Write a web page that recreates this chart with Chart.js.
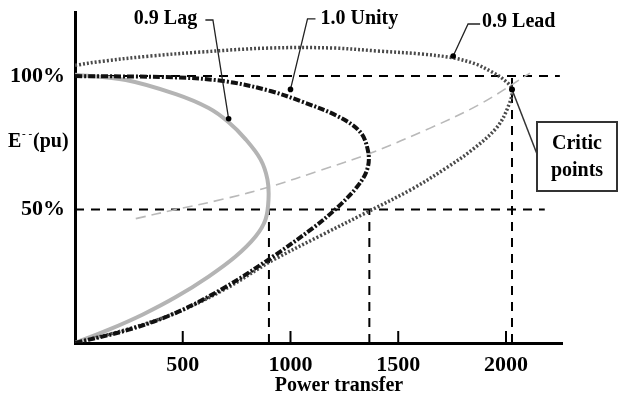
<!DOCTYPE html>
<html>
<head>
<meta charset="utf-8">
<script src="https://cdn.jsdelivr.net/npm/chart.js@4"></script>
<style>
  html, body { margin: 0; padding: 0; background: #fff; }
  #wrap { width: 622px; height: 399px; }
</style>
</head>
<body>
<div id="wrap"><canvas id="c"></canvas></div>
<script>
// Power transfer (x) / voltage % (y)
const lagP = [0, 236, 468, 620, 713, 792, 861, 893, 898, 884, 838, 745, 620, 468, 315, 157, 0];
const lagV = [100.5, 98.5, 93.2, 88, 82.7, 76.3, 68.8, 61.3, 53.8, 46.2, 39.9, 32.4, 24.9, 17.2, 10.7, 5, 0];

const unityP = [0, 468, 700, 907, 1060, 1218, 1324, 1361, 1356, 1310, 1218, 1106, 917, 699, 468, 250, 0];
const unityV = [100, 99.5, 98, 94.4, 90.2, 85, 79, 71.4, 65, 58.6, 50.8, 43.2, 32.3, 21, 11.3, 5, 0];

const leadP = [0, 120, 350, 583, 900, 1200, 1417, 1602, 1755, 1860, 1926, 1986, 2028, 2009, 1958, 1847, 1727, 1569, 1370, 1139, 907, 699, 468, 250, 0];
const leadV = [104, 105.5, 107.5, 109, 110.5, 110.5, 109.3, 108.3, 106.8, 104.5, 101.9, 98.9, 95, 88.3, 80.8, 72.6, 65.8, 57.9, 49.6, 40.2, 30.5, 20.3, 11.3, 5.3, 0];

const locusP = [282, 468, 699, 907, 1139, 1370, 1648, 1880, 2111];
const locusV = [46.6, 50, 54.1, 58.6, 64.7, 71.1, 80.5, 89.5, 101.1];

const xTicks = [500, 1000, 1500, 2000];
const yTicks = [50, 100];
const critP = [900, 1366, 2028];   // vertical guides
const critTop = [50, 50, 100];

const pts = (xs, ys) => xs.map((x, i) => ({x, y: ys[i]}));

const guide = (data) => ({
    data, borderColor: '#000', borderWidth: 2, borderDash: [9, 7],
    pointRadius: 0, showLine: true, tension: 0, order: 5
});

const datasets = [
    guide([{x: 0, y: 100}, {x: 2250, y: 100}]),
    guide([{x: 0, y: 50}, {x: 2180, y: 50}]),
    ...critP.map((p, i) => guide([{x: p, y: 0}, {x: p, y: critTop[i]}])),
    {
        label: 'locus', data: pts(locusP, locusV), borderColor: '#b9b9b9', borderWidth: 1.6,
        borderDash: [10, 6], pointRadius: 0, showLine: true, tension: 0.35, order: 4
    },
    {
        label: '0.9 Lag', data: pts(lagP, lagV), borderColor: '#b4b4b4', borderWidth: 4,
        pointRadius: 0, showLine: true, tension: 0.35, order: 3
    },
    {
        label: '0.9 Lead', data: pts(leadP, leadV), borderColor: '#4a4a4a', borderWidth: 3.5,
        borderDash: [2, 2], pointRadius: 0, showLine: true, tension: 0.35, order: 2
    },
    {
        label: '1.0 Unity', data: pts(unityP, unityV), borderColor: '#111', borderWidth: 4,
        borderDash: [7, 2, 2, 2], pointRadius: 0, showLine: true, tension: 0.35, order: 1
    }
];

const SERIF = '"Liberation Serif", "Times New Roman", serif';
const FONT = 'bold 20px ' + SERIF;

// leader lines, labels, inner ticks
const notes = {
    id: 'notes',
    afterDraw(chart) {
        const {ctx, scales: {x, y}} = chart;
        const X = v => x.getPixelForValue(v);
        const Y = v => y.getPixelForValue(v);
        ctx.save();
        // inner tick marks
        ctx.strokeStyle = '#000';
        ctx.lineWidth = 2;
        xTicks.forEach(t => {
            ctx.beginPath();
            ctx.moveTo(X(t), y.bottom);
            ctx.lineTo(X(t), y.bottom - 12);
            ctx.stroke();
        });

        ctx.font = FONT;
        ctx.fillStyle = '#000';
        ctx.textBaseline = 'middle';

        const leader = (path) => {
            ctx.lineWidth = 1.3;
            ctx.strokeStyle = '#222';
            ctx.beginPath();
            path.forEach(([p, v], i) => i ? ctx.lineTo(X(p), Y(v)) : ctx.moveTo(X(p), Y(v)));
            ctx.stroke();
            const [p, v] = path[path.length - 1];
            ctx.beginPath();
            ctx.arc(X(p), Y(v), 2.8, 0, Math.PI * 2);
            ctx.fill();
        };

        ctx.textAlign = 'center';
        ctx.fillText('0.9 Lag', X(420), Y(121.5));
        leader([[605, 121], [640, 121], [713, 84]]);

        ctx.textAlign = 'left';
        ctx.fillText('1.0 Unity', X(1139), Y(121.4));
        leader([[1116, 121.4], [1079, 121.4], [1000, 95]]);

        ctx.fillText('0.9 Lead', X(1889), Y(120.3));
        leader([[1880, 119.5], [1824, 119.5], [1755, 107.5]]);

        // Critic points box
        const bx = 537, by = 122, bw = 80, bh = 69;
        ctx.lineWidth = 2;
        ctx.strokeStyle = '#333';
        ctx.strokeRect(bx, by, bw, bh);
        ctx.textAlign = 'center';
        ctx.fillText('Critic', bx + bw / 2, by + 22);
        ctx.fillText('points', bx + bw / 2, by + 49);
        ctx.lineWidth = 1.5;
        ctx.beginPath();
        ctx.moveTo(bx, by + 32);
        ctx.lineTo(X(2028), Y(95));
        ctx.stroke();
        ctx.beginPath();
        ctx.arc(X(2028), Y(95), 3, 0, Math.PI * 2);
        ctx.fill();

        // axis names
        ctx.fillText('Power transfer', 339, 386);
        ctx.textAlign = 'left';
        const ty = Y(75.2);
        ctx.fillText('E', 8, ty);
        ctx.font = 'bold 11px ' + SERIF;
        ctx.fillText('- -', 22, ty - 8);
        ctx.font = FONT;
        ctx.fillText('(pu)', 33, ty);
        ctx.restore();
    }
};

new Chart(document.getElementById('c'), {
    type: 'scatter',
    data: {datasets},
    options: {
        responsive: true,
        maintainAspectRatio: false,
        animation: false,
        layout: {padding: {top: 12, right: 60, left: 0, bottom: 0}},
        plugins: {legend: {display: false}, tooltip: {enabled: false}},
        scales: {
            x: {
                type: 'linear', min: 0, max: 2260,
                afterBuildTicks: s => { s.ticks = xTicks.map(value => ({value})); },
                afterFit: s => { s.height = 56; s.paddingLeft = 0; s.paddingRight = 0; },
                grid: {display: false, drawTicks: false},
                border: {color: '#000', width: 3},
                ticks: {
                    color: '#000', padding: 9, maxRotation: 0,
                    font: {family: SERIF, size: 22, weight: 'bold'},
                    callback: v => String(v)
                }
            },
            y: {
                type: 'linear', min: 0, max: 124,
                afterBuildTicks: s => { s.ticks = yTicks.map(value => ({value})); },
                afterFit: s => { s.width = 75; s.paddingTop = 0; s.paddingBottom = 0; },
                grid: {display: false, drawTicks: false},
                border: {color: '#000', width: 3},
                ticks: {
                    color: '#000', padding: 10,
                    font: {family: SERIF, size: 22, weight: 'bold'},
                    callback: v => v + '%'
                }
            }
        }
    },
    plugins: [notes]
});
</script>
</body>
</html>
